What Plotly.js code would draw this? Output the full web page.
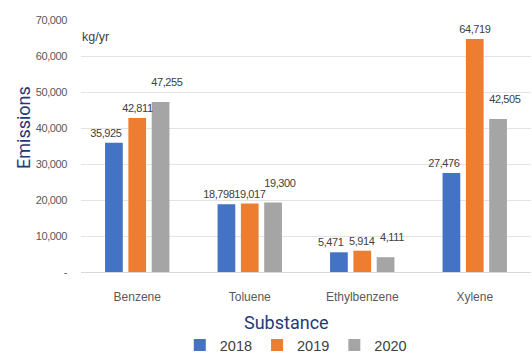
<!DOCTYPE html>
<html><head><meta charset="utf-8">
<script src="https://cdn.plot.ly/plotly-3.0.1.min.js"></script>
<style>
html,body{margin:0;padding:0;background:#fff;}
#chart{width:532px;height:355px;}
#chart .annotation-text.dlabel, #chart .ytick text{letter-spacing:-0.4px;}
</style>
</head><body><div id="chart"></div>
<script>
const categories = ['Benzene', 'Toluene', 'Ethylbenzene', 'Xylene'];
const years = ['2018', '2019', '2020'];
const values2018 = [35925, 18798, 5471, 27476];
const values2019 = [42811, 19017, 5914, 64719];
const values2020 = [47255, 19300, 4111, 42505];
const yTickVals = [0, 10000, 20000, 30000, 40000, 50000, 60000, 70000];
const yTickText = ['-', '10,000', '20,000', '30,000', '40,000', '50,000', '60,000', '70,000'];

const colors = ['#4472C4', '#ED7D31', '#A5A5A5'];
const series = [values2018, values2019, values2020];
const labelXShift = [-31, 0, 30];
const labelYShift = [10, 10, 20];

const SMALL = '"Liberation Sans", Arial, sans-serif';
const TITLE = 'Roboto, "Noto Sans", sans-serif';

const traces = series.map((vals, i) => ({
  type: 'bar', name: years[i], x: categories, y: vals,
  marker: {color: colors[i]}, cliponaxis: false
}));

const fmt = v => v.toLocaleString('en-US');
const dataLabels = [];
series.forEach((vals, i) => vals.forEach((v, j) => dataLabels.push({
  x: categories[j], y: v, xref: 'x', yref: 'y', text: fmt(v), showarrow: false,
  xshift: labelXShift[i], yshift: labelYShift[i], xanchor: 'center', yanchor: 'middle',
  font: {family: SMALL, size: 11, color: '#404040'}
})));

const layout = {
  width: 532, height: 355,
  margin: {l: 81, r: 1, t: 20, b: 83},
  paper_bgcolor: '#fff', plot_bgcolor: '#fff',
  font: {family: SMALL, color: '#595959'},
  barmode: 'group', bargap: 0.378, bargroupgap: 0.24,
  showlegend: true,
  legend: {orientation: 'h', xref: 'container', yref: 'container', x: 0.556, xanchor: 'center', y: 0.028, yanchor: 'middle',
    font: {family: SMALL, size: 14.5, color: '#404040'}, itemwidth: 30, traceorder: 'normal'},
  xaxis: {tickfont: {family: SMALL, size: 12, color: '#595959'}, showline: false, ticks: '', showgrid: false, ticklabelstandoff: 16},
  yaxis: {range: [0, 70000], tickvals: yTickVals, ticktext: yTickText, showgrid: true, gridcolor: '#E3E3E3', gridwidth: 1,
    zeroline: true, zerolinecolor: '#D9D9D9', showline: false, ticks: '', ticklabelstandoff: 13,
    tickfont: {family: SMALL, size: 11, color: '#595959'}},
  annotations: dataLabels.concat([
    {text: 'kg/yr', xref: 'paper', yref: 'paper', x: -0.002, y: (272 - 37) / 252, xanchor: 'left', yanchor: 'middle', showarrow: false,
      font: {family: SMALL, size: 12.5, color: '#404040'}},
    {text: 'Emissions', xref: 'paper', yref: 'paper', x: (23 - 81) / 450, y: (272 - 128) / 252, textangle: -90, xanchor: 'center', yanchor: 'middle', showarrow: false,
      font: {family: TITLE, size: 18, color: '#1F3A7A'}},
    {text: 'Substance', xref: 'paper', yref: 'paper', x: (286 - 81) / 450, y: -(322 - 272) / 252, xanchor: 'center', yanchor: 'middle', showarrow: false,
      font: {family: TITLE, size: 18, color: '#1F3A7A'}}
  ])
};
Plotly.newPlot('chart', traces, layout, {displayModeBar: false, staticPlot: true}).then(() => {
  const n = dataLabels.length;
  document.querySelectorAll('#chart .annotation-text').forEach((el, k) => { if (k < n) el.classList.add('dlabel'); });
});
</script></body></html>
